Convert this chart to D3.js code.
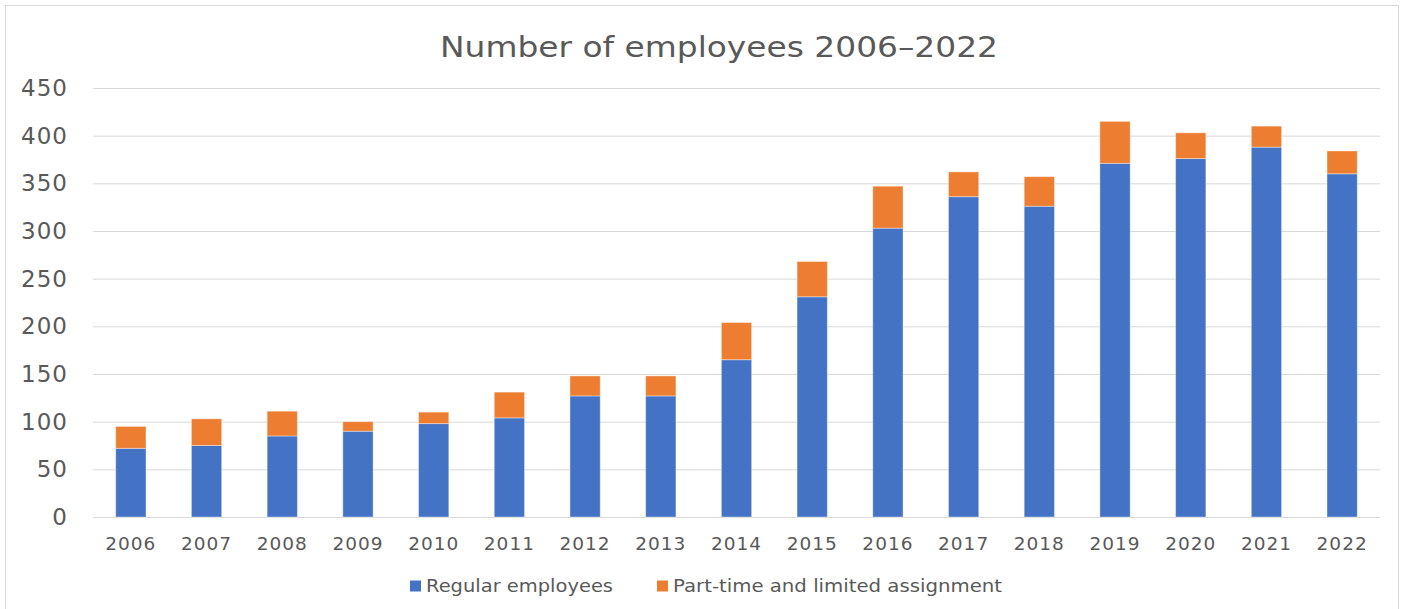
<!DOCTYPE html>
<html>
<head>
<meta charset="utf-8">
<script src="https://cdn.jsdelivr.net/npm/d3@7"></script>
<style>
  body { margin: 0; background: #fff; }
  svg { display: block; font-family: "DejaVu Sans", "Noto Sans", sans-serif; }
</style>
</head>
<body>
<svg id="chart"></svg>
<script>
// values
const years = ["2006","2007","2008","2009","2010","2011","2012","2013","2014","2015","2016","2017","2018","2019","2020","2021","2022"];
const regular = [72, 75, 85, 90, 98, 104, 127, 127, 165, 231, 303, 336, 326, 371, 376, 388, 360];
const partTime = [23, 28, 26, 10, 12, 27, 21, 21, 39, 37, 44, 26, 31, 44, 27, 22, 24];
const seriesNames = ["Regular employees", "Part-time and limited assignment"];
const seriesColors = ["#4472C4", "#ED7D31"];
const yTicks = [0, 50, 100, 150, 200, 250, 300, 350, 400, 450];

const W = 1405, H = 609;
const margin = { top: 88, right: 25, bottom: 92, left: 93 };

let svg = d3.select("#chart").attr("width", W).attr("height", H);

// outer frame
svg.append("rect")
    .attr("x", 5.5).attr("y", 5.5)
    .attr("width", 1393).attr("height", 610)
    .attr("fill", "#fff")
    .attr("stroke", "#d9d9d9");

let rows = years.map((y, i) => ({ year: y, regular: regular[i], part: partTime[i] }));
let stacked = d3.stack().keys(["regular", "part"])(rows);

let x = d3.scaleBand()
    .domain(years)
    .range([margin.left, W - margin.right])
    .paddingInner(0.6)
    .paddingOuter(0.3);

let y = d3.scaleLinear()
    .domain([0, 450])
    .range([H - margin.bottom, margin.top]);

// gridlines + y labels
let yAxis = d3.axisLeft(y)
    .tickValues(yTicks)
    .tickSize(-(W - margin.right - margin.left))
    .tickPadding(25);

let gy = svg.append("g")
    .attr("transform", `translate(${margin.left},0)`)
    .call(yAxis);
gy.select(".domain").remove();
gy.selectAll(".tick line").attr("stroke", "#d9d9d9").attr("stroke-width", 1);
gy.selectAll(".tick text")
    .attr("fill", "#595959")
    .style("font-family", "DejaVu Sans")
    .style("font-size", "23px")
    .style("letter-spacing", "1px");

// bars
svg.append("g")
    .selectAll("g")
    .data(stacked)
    .enter()
    .append("g")
    .attr("fill", (d, i) => seriesColors[i])
    .selectAll("rect")
    .data(d => d)
    .enter()
    .append("rect")
    .attr("x", d => x(d.data.year))
    .attr("y", d => y(d[1]))
    .attr("width", x.bandwidth())
    .attr("height", d => y(d[0]) - y(d[1]))
    .attr("stroke", "#fff")
    .attr("stroke-opacity", 0.4)
    .attr("stroke-width", 1);

// x labels
let xAxis = d3.axisBottom(x).tickSize(0).tickPadding(20);
let gx = svg.append("g")
    .attr("transform", `translate(0,${H - margin.bottom})`)
    .call(xAxis);
gx.select(".domain").remove();
gx.selectAll(".tick text")
    .attr("fill", "#595959")
    .style("font-family", "DejaVu Sans")
    .style("font-size", "18.5px")
    .style("letter-spacing", "1px");

// title
svg.append("text")
    .attr("x", 440)
    .attr("y", 57)
    .attr("fill", "#595959")
    .attr("textLength", 558)
    .attr("lengthAdjust", "spacingAndGlyphs")
    .style("font-size", "29px")
    .text("Number of employees 2006\u20132022");

// legend
let legendX = [410, 657];
let legendLen = [187, 329];
let legend = svg.append("g")
    .selectAll("g")
    .data(seriesNames)
    .enter()
    .append("g")
    .attr("transform", (d, i) => `translate(${legendX[i]},586)`);
legend.append("rect")
    .attr("x", 0).attr("y", -5.5)
    .attr("width", 11).attr("height", 11)
    .attr("fill", (d, i) => seriesColors[i]);
legend.append("text")
    .attr("x", 16)
    .attr("y", 0)
    .attr("dy", "0.35em")
    .attr("fill", "#595959")
    .attr("textLength", (d, i) => legendLen[i])
    .attr("lengthAdjust", "spacingAndGlyphs")
    .style("font-size", "18.5px")
    .text(d => d);
</script>
</body>
</html>
